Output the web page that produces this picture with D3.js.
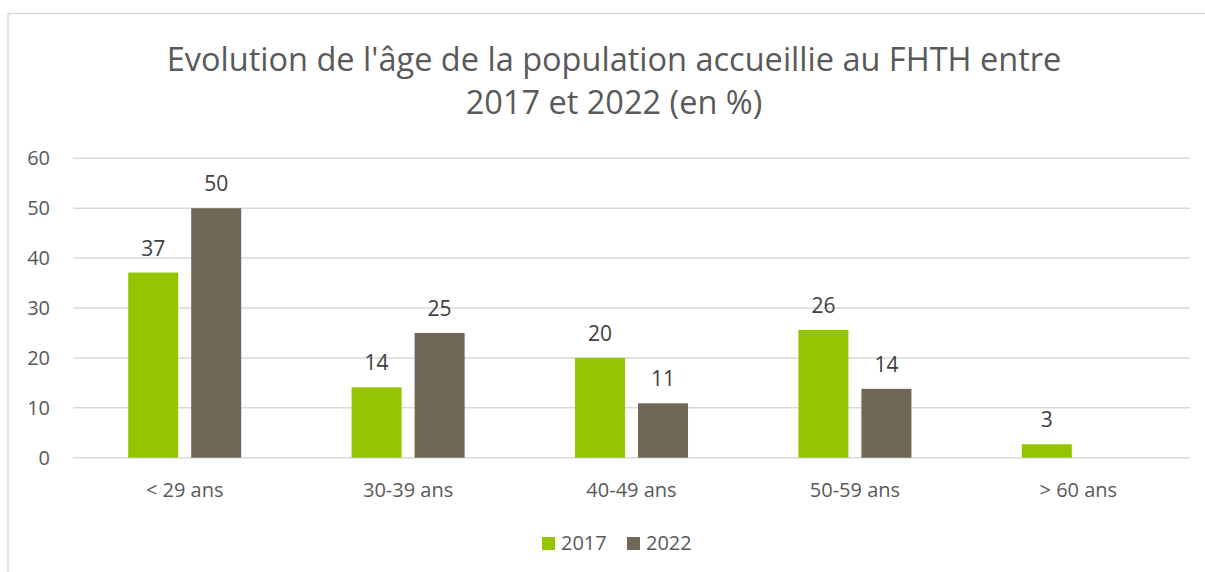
<!DOCTYPE html>
<html>
<head>
<meta charset="utf-8">
<script src="https://cdn.jsdelivr.net/npm/d3@7"></script>
<style>
  html, body { margin: 0; padding: 0; background: #fff; }
  svg { display: block; font-family: "Open Sans", sans-serif; }
</style>
</head>
<body>
<svg id="chart" width="1205" height="572"></svg>
<script>
const titleLines = ["Evolution de l'âge de la population accueillie au FHTH entre", "2017 et 2022 (en %)"];
const categories = ["< 29 ans", "30-39 ans", "40-49 ans", "50-59 ans", "> 60 ans"];
const seriesNames = ["2017", "2022"];
const values2017 = [37.1, 14.1, 20, 25.6, 2.7];
const values2022 = [50, 25, 10.9, 13.8, null];
const yTicks = [0, 10, 20, 30, 40, 50, 60];
const colors = ["#93c500", "#716757"];

const svg = d3.select("#chart");
const W = 1205, H = 572;
const margin = { left: 73, right: 15, top: 158.3, bottom: 572 - 457.7 };

// chart border
svg.append("rect")
  .attr("x", 8).attr("y", 13.5)
  .attr("width", W + 20).attr("height", H + 20)
  .attr("fill", "#fff").attr("stroke", "#d9d9d9").attr("stroke-width", 1.5);

const x0 = d3.scaleBand().domain(categories)
  .range([margin.left, W - margin.right])
  .paddingInner(0.494).paddingOuter(0.247);
const x1 = d3.scaleBand().domain(seriesNames)
  .range([0, x0.bandwidth()]).paddingInner(0.206).paddingOuter(0);
const y = d3.scaleLinear().domain([0, 60]).range([H - margin.bottom, margin.top]);

// gridlines
svg.append("g").selectAll("line").data(yTicks).join("line")
  .attr("x1", margin.left).attr("x2", W - margin.right)
  .attr("y1", d => y(d)).attr("y2", d => y(d))
  .attr("stroke", "#d9d9d9").attr("stroke-width", 1.5);

// y axis labels
const yAxis = d3.axisLeft(y).tickValues(yTicks).tickSize(0).tickPadding(0);
const gy = svg.append("g").attr("transform", `translate(${50},0)`).call(yAxis);
gy.select(".domain").remove();
gy.selectAll("text").attr("font-size", 20).attr("fill", "#595959")
  .attr("font-family", "'Open Sans', sans-serif");

// x axis labels
const xAxis = d3.axisBottom(x0).tickSize(0).tickPadding(0);
const gx = svg.append("g").attr("transform", `translate(0,${y(0)})`).call(xAxis);
gx.select(".domain").remove();
gx.selectAll("text").attr("font-size", 20).attr("fill", "#595959")
  .attr("font-family", "'Open Sans', sans-serif")
  .attr("dy", null).attr("y", 39.5);

// bars
const data = categories.map((c, i) => ({ cat: c, vals: [values2017[i], values2022[i]] }));
const groups = svg.append("g").selectAll("g").data(data).join("g")
  .attr("transform", d => `translate(${x0(d.cat)},0)`);
groups.selectAll("rect")
  .data(d => d.vals.map((v, j) => ({ s: seriesNames[j], v, j })).filter(e => e.v != null))
  .join("rect")
  .attr("x", d => x1(d.s))
  .attr("width", x1.bandwidth())
  .attr("y", d => y(d.v))
  .attr("height", d => y(0) - y(d.v))
  .attr("fill", d => colors[d.j]);
groups.selectAll("text")
  .data(d => d.vals.map((v, j) => ({ s: seriesNames[j], v, j })).filter(e => e.v != null))
  .join("text")
  .attr("x", d => x1(d.s) + x1.bandwidth() / 2)
  .attr("y", d => y(d.v) - 17)
  .attr("text-anchor", "middle")
  .attr("font-size", 21).attr("fill", "#404040")
  .text(d => Math.round(d.v));

// title
const titleY = [71, 114];
const tg = svg.append("g");
const t1 = tg.append("text").attr("x", 614).attr("y", titleY[0])
  .attr("text-anchor", "middle").attr("fill", "#595959")
  .attr("font-size", 30).text(titleLines[0]);
const w1 = t1.node().getComputedTextLength();
const fs = 30 * 895 / w1;
t1.attr("font-size", fs);
tg.append("text").attr("x", 614).attr("y", titleY[1])
  .attr("text-anchor", "middle").attr("fill", "#595959")
  .attr("font-size", fs).text(titleLines[1]);

// legend
const legend = svg.append("g");
const legendX = [542, 627];
seriesNames.forEach((s, i) => {
  legend.append("rect").attr("x", legendX[i]).attr("y", 537)
    .attr("width", 13).attr("height", 13).attr("fill", colors[i]);
  legend.append("text").attr("x", legendX[i] + 19).attr("y", 550)
    .attr("font-size", 20).attr("fill", "#595959").text(s);
});
</script>
</body>
</html>
